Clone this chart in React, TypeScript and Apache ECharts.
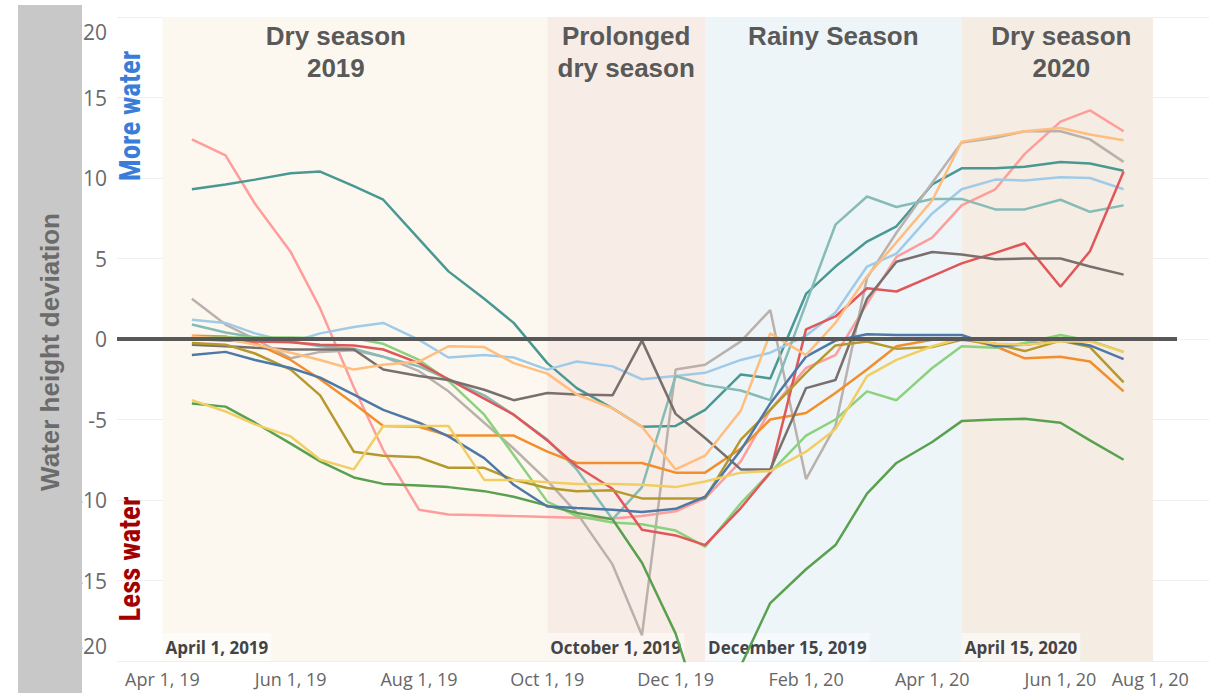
import React, { useEffect, useRef } from 'react';
import * as echarts from 'echarts';

const dates = [
  '2019-04-15', '2019-05-01', '2019-05-15', '2019-06-01', '2019-06-15', '2019-07-01',
  '2019-07-15', '2019-08-01', '2019-08-15', '2019-09-01', '2019-09-15', '2019-10-01',
  '2019-10-15', '2019-11-01', '2019-11-15', '2019-12-01', '2019-12-15', '2020-01-01',
  '2020-01-15', '2020-02-01', '2020-02-15', '2020-03-01', '2020-03-15', '2020-04-01',
  '2020-04-15', '2020-05-01', '2020-05-15', '2020-06-01', '2020-06-15', '2020-07-01',
];

const pink = [12.4, 11.4, 8.4, 5.4, 1.9, -3.0, -6.9, -10.6, -10.9, -10.95, -11.0, -11.05, -11.1, -11.15, -11.0, -10.7, -9.9, -7.6, -4.4, -1.8, -1.0, 2.2, 5.1, 6.3, 8.3, 9.3, 11.5, 13.5, 14.2, 12.9];
const teal = [9.3, 9.6, 9.9, 10.3, 10.4, 9.5, 8.65, 6.2, 4.2, 2.5, 1.0, -1.5, -3.05, -4.3, -5.45, -5.4, -4.4, -2.2, -2.45, 2.8, 4.5, 6.05, 7.0, 9.6, 10.6, 10.6, 10.7, 11.0, 10.9, 10.45];
const lightGray = [2.5, 0.9, 0.0, -1.2, -0.8, -0.7, -1.1, -2.0, -3.25, -5.2, -6.8, -8.8, -10.8, -14.0, -18.4, -1.9, -1.6, -0.15, 1.8, -8.7, -5.4, 3.8, 6.6, 9.7, 12.2, 12.5, 12.9, 12.9, 12.4, 11.0];
const lightBlue = [1.2, 1.0, 0.35, -0.2, 0.35, 0.75, 1.0, -0.05, -1.15, -1.0, -1.15, -1.9, -1.4, -1.7, -2.5, -2.3, -2.1, -1.3, -0.85, 0.2, 1.65, 4.5, 5.3, 7.8, 9.3, 9.9, 9.85, 10.05, 10.0, 9.3];
const lightTeal = [0.9, 0.4, 0.1, -0.15, -0.45, -0.6, -1.1, -1.7, -2.5, -3.5, -4.7, -6.25, -8.1, -11.2, -9.2, -2.3, -2.85, -3.2, -3.8, 2.2, 7.1, 8.85, 8.2, 8.7, 8.7, 8.05, 8.05, 8.65, 7.9, 8.3];
const orange = [0.2, 0.15, -0.25, -1.3, -2.5, -4.0, -5.4, -5.45, -6.0, -6.0, -6.0, -7.0, -7.7, -7.7, -7.7, -8.3, -8.3, -6.8, -5.0, -4.6, -3.35, -1.9, -0.45, -0.05, 0.05, -0.45, -1.2, -1.1, -1.4, -3.25];
const lightGreen = [0.1, 0.1, 0.1, 0.1, 0.05, 0.05, -0.3, -1.3, -2.6, -4.7, -7.2, -10.1, -11.0, -11.4, -11.5, -11.9, -12.9, -10.2, -8.3, -6.0, -5.0, -3.25, -3.8, -1.8, -0.45, -0.55, -0.25, 0.25, -0.1, -0.8];
const green = [-4.0, -4.2, -5.2, -6.5, -7.6, -8.6, -9.0, -9.1, -9.2, -9.45, -9.8, -10.35, -10.8, -11.2, -13.9, -18.3, -24.0, -20.3, -16.4, -14.3, -12.8, -9.6, -7.7, -6.4, -5.1, -5.0, -4.95, -5.2, -6.3, -7.5];
const red = [0.0, -0.1, -0.15, -0.2, -0.35, -0.4, -0.65, -1.5, -2.5, -3.7, -4.7, -6.3, -7.9, -9.3, -11.85, -12.2, -12.8, -10.5, -8.3, 0.6, 1.4, 3.15, 2.95, 3.9, 4.7, 5.35, 5.95, 3.25, 5.45, 10.4];
const darkGray = [-0.35, -0.45, -0.55, -0.65, -0.65, -0.65, -1.9, -2.3, -2.55, -3.15, -3.8, -3.35, -3.45, -3.5, -0.1, -4.65, -6.15, -8.1, -8.1, -3.05, -2.55, 2.5, 4.8, 5.4, 5.25, 4.95, 5.0, 5.0, 4.5, 4.0];
const olive = [-0.25, -0.35, -0.9, -1.9, -3.5, -7.0, -7.25, -7.35, -8.0, -8.0, -8.75, -9.25, -9.45, -9.4, -9.9, -9.9, -9.9, -6.25, -4.4, -2.1, -0.4, -0.15, -0.6, -0.5, -0.05, -0.3, -0.75, -0.1, -0.5, -2.7];
const blue = [-1.0, -0.8, -1.3, -1.8, -2.4, -3.45, -4.4, -5.2, -6.05, -7.4, -9.05, -10.4, -10.5, -10.6, -10.75, -10.55, -9.8, -6.9, -4.0, -1.1, -0.1, 0.3, 0.25, 0.25, 0.25, -0.45, -0.35, -0.1, -0.4, -1.25];
const lightOrange = [0.15, 0.0, -0.35, -0.85, -1.3, -1.9, -1.6, -1.4, -0.45, -0.5, -1.5, -2.15, -3.45, -4.3, -5.45, -8.1, -7.25, -4.45, 0.35, -1.0, 1.0, 3.9, 6.0, 8.6, 12.25, 12.6, 12.9, 13.1, 12.7, 12.35];
const yellow = [-3.8, -4.5, -5.3, -6.05, -7.5, -8.1, -5.4, -5.4, -5.4, -8.75, -8.75, -8.9, -9.0, -9.0, -9.05, -9.2, -8.85, -8.3, -8.2, -7.0, -5.6, -2.3, -1.3, -0.45, 0.05, -0.3, -0.35, -0.15, -0.15, -0.8];

const seriesNames = ['Pink', 'Teal', 'Light gray', 'Light blue', 'Light teal', 'Orange', 'Light green', 'Green', 'Red', 'Dark gray', 'Olive', 'Blue', 'Light orange', 'Yellow'];
const seriesValues = [pink, teal, lightGray, lightBlue, lightTeal, orange, lightGreen, green, red, darkGray, olive, blue, lightOrange, yellow];
const seriesColors = ['#FF9D9A', '#499894', '#BAB0AC', '#A0CBE8', '#86BCB6', '#F28E2B', '#8CD17D', '#59A14F', '#E15759', '#79706E', '#B6992D', '#4E79A7', '#FFBE7D', '#F1CE63'];

const xTickDates = ['2019-04-01', '2019-06-01', '2019-08-01', '2019-10-01', '2019-12-01', '2020-02-01', '2020-04-01', '2020-06-01', '2020-08-01'];
const xTickLabels = ['Apr 1, 19', 'Jun 1, 19', 'Aug 1, 19', 'Oct 1, 19', 'Dec 1, 19', 'Feb 1, 20', 'Apr 1, 20', 'Jun 1, 20', 'Aug 1, 20'];

const seasonTitles = ['Dry season\n2019', 'Prolonged\ndry season', 'Rainy Season', 'Dry season\n2020'];
const seasonStarts = ['2019-04-01', '2019-10-01', '2019-12-15', '2020-04-15'];
const seasonEnds = ['2019-10-01', '2019-12-15', '2020-04-15', '2020-07-15'];
const seasonStartLabels = ['April 1, 2019', 'October 1, 2019', 'December 15, 2019', 'April 15, 2020'];

const DAY = 86400000;
const BASE = Date.UTC(2019, 3, 1);
// days since April 1, 2019
const day = (s: string) => {
  const [y, m, d] = s.split('-').map(Number);
  return Math.round((Date.UTC(y, m - 1, d) - BASE) / DAY);
};

export default function App() {
  const ref = useRef<HTMLDivElement>(null);

  useEffect(() => {
    if (!ref.current) return;
    document.body.style.margin = '0';
    const chart = echarts.init(ref.current, undefined, { renderer: 'svg' });

    const xMin = -21.6;
    const xMax = 497.6;
    const zeroEnd = 482.4;
    const tickDays = xTickDates.map(day);

    const bandColors = ['#FCF8F0', '#F8ECE6', '#EEF5F9', '#F5EDE3'];
    const titleOffsets = [-19, 0, 0, 4];

    const bandData: any[] = seasonTitles.map((title, i) => [
      {
        xAxis: day(seasonStarts[i]),
        itemStyle: { color: bandColors[i] },
        label: {
          show: true,
          position: 'insideTop',
          distance: 3,
          offset: [titleOffsets[i], 0],
          formatter: title,
          fontSize: 26,
          fontWeight: 'bold',
          fontFamily: 'Liberation Sans, Arial, sans-serif',
          color: '#595959',
          lineHeight: 32,
          align: 'center',
        },
      },
      { xAxis: day(seasonEnds[i]) },
    ]);

    const dateLabelData: any[] = seasonStartLabels.map((lab, i) => [
      {
        xAxis: day(seasonStarts[i]),
        itemStyle: { color: 'rgba(0,0,0,0)' },
        label: {
          show: true,
          position: 'insideBottomLeft',
          distance: 0,
          formatter: lab,
          fontSize: 17,
          fontWeight: 'bold',
          fontFamily: 'Open Sans, sans-serif',
          color: '#444',
          lineHeight: 20,
          padding: [4, 3, 4, 3],
          backgroundColor: 'rgba(255,255,255,0.5)',
        },
      },
      { xAxis: day(seasonEnds[i]) },
    ]);

    const lineSeries = seriesValues.map((vals, i) => ({
      type: 'line',
      name: seriesNames[i],
      data: dates.map((d, j) => [day(d), vals[j]]),
      showSymbol: false,
      symbol: 'none',
      clip: true,
      silent: true,
      z: 3,
      lineStyle: { width: 2.5, color: seriesColors[i] },
      itemStyle: { color: seriesColors[i] },
    }));

    const option: any = {
      animation: false,
      grid: { left: 117, right: 0, top: 17, bottom: 32, containLabel: false },
      xAxis: {
        type: 'value',
        min: xMin,
        max: xMax,
        axisLine: { show: false },
        axisTick: { show: false },
        splitLine: { show: false },
        axisLabel: {
          customValues: tickDays,
          formatter: (v: number) => {
            const idx = tickDays.findIndex((tt) => Math.abs(tt - v) < 0.5);
            return idx >= 0 ? xTickLabels[idx] : '';
          },
          alignMaxLabel: 'right',
          color: '#666',
          fontSize: 18,
          fontFamily: 'Open Sans, sans-serif',
          margin: 9,
        },
      },
      yAxis: {
        type: 'value',
        min: -20,
        max: 20,
        interval: 5,
        axisLine: { show: false },
        axisTick: { show: false },
        splitLine: { show: true, lineStyle: { color: '#EFEFEF', width: 1 } },
        axisLabel: {
          color: '#6a6a6a',
          fontSize: 21,
          fontFamily: 'Open Sans, sans-serif',
          margin: 10,
          lineHeight: 30,
          verticalAlignMaxLabel: 'top',
          verticalAlignMinLabel: 'bottom',
        },
      },
      series: [
        {
          type: 'line',
          name: 'bands',
          data: [],
          z: 1,
          silent: true,
          markArea: { silent: true, data: bandData },
        },
        {
          type: 'line',
          name: 'dates',
          data: [],
          z: 2,
          silent: true,
          markArea: { silent: true, data: dateLabelData },
        },
        ...lineSeries,
        {
          type: 'line',
          name: 'zero',
          data: [],
          z: 6,
          silent: true,
          markLine: {
            silent: true,
            symbol: ['none', 'none'],
            label: { show: false },
            lineStyle: { color: '#585858', width: 4, type: 'solid' },
            data: [[{ coord: [xMin, 0] }, { coord: [zeroEnd, 0] }]],
          },
        },
      ],
      graphic: [
        {
          type: 'rect',
          z: 100,
          shape: { x: 18, y: 5, width: 64, height: 700 },
          style: { fill: '#C8C8C8' },
        },
        {
          type: 'text',
          z: 101,
          x: 50,
          y: 352,
          rotation: Math.PI / 2,
          style: {
            text: 'Water height deviation',
            fill: '#6b6b6b',
            font: 'bold 26px "Liberation Sans", Arial, sans-serif',
            textAlign: 'center',
            textVerticalAlign: 'middle',
            align: 'center',
            verticalAlign: 'middle',
          },
        },
        {
          type: 'text',
          z: 101,
          x: 130,
          y: 116,
          rotation: Math.PI / 2,
          style: {
            text: 'More water',
            fill: '#3A7DD8',
            font: 'bold 29px "Liberation Sans Narrow", "Roboto Condensed", "DejaVu Sans Condensed", sans-serif',
            textAlign: 'center',
            textVerticalAlign: 'middle',
            align: 'center',
            verticalAlign: 'middle',
          },
        },
        {
          type: 'text',
          z: 101,
          x: 130,
          y: 559,
          rotation: Math.PI / 2,
          style: {
            text: 'Less water',
            fill: '#A30000',
            font: 'bold 29px "Liberation Sans Narrow", "Roboto Condensed", "DejaVu Sans Condensed", sans-serif',
            textAlign: 'center',
            textVerticalAlign: 'middle',
            align: 'center',
            verticalAlign: 'middle',
          },
        },
      ],
    };

    chart.setOption(option);
    return () => chart.dispose();
  }, []);

  return (
    <div
      ref={ref}
      style={{ position: 'absolute', left: 0, top: 0, width: 1209, height: 693, background: '#fff' }}
    />
  );
}
